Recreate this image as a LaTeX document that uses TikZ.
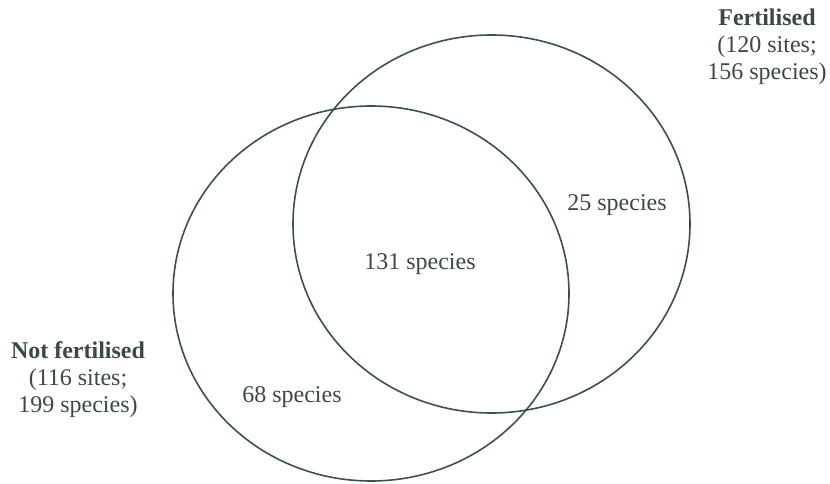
\documentclass[tikz,border=0pt]{standalone}
\usepackage{fontspec}
\setmainfont{Liberation Serif}
\definecolor{linec}{RGB}{58,82,72}
\definecolor{textc}{RGB}{60,72,66}
\begin{document}
\begin{tikzpicture}[x=1pt,y=-1pt,
  ring/.style={draw=linec,line width=1.6pt},
  lab/.style={text=textc,font=\fontsize{24}{27}\selectfont,inner sep=0pt,align=center}]
\useasboundingbox (0,0) rectangle (830,484);
\draw[ring] (371,293.5) ellipse [x radius=198, y radius=187.5];
\draw[ring] (491.5,224) ellipse [x radius=198.5, y radius=189];
\node[lab] (both) at (420,264) {131 species};
\node[lab] (fonly) at (617,205) {25 species};
\node[lab] (nonly) at (292,397) {68 species};
\node[lab] (nf) at (78,380) {\textbf{Not fertilised}\\(116 sites;\\199 species)};
\node[lab] (f) at (767,47) {\textbf{Fertilised}\\(120 sites;\\156 species)};
\end{tikzpicture}
\end{document}
